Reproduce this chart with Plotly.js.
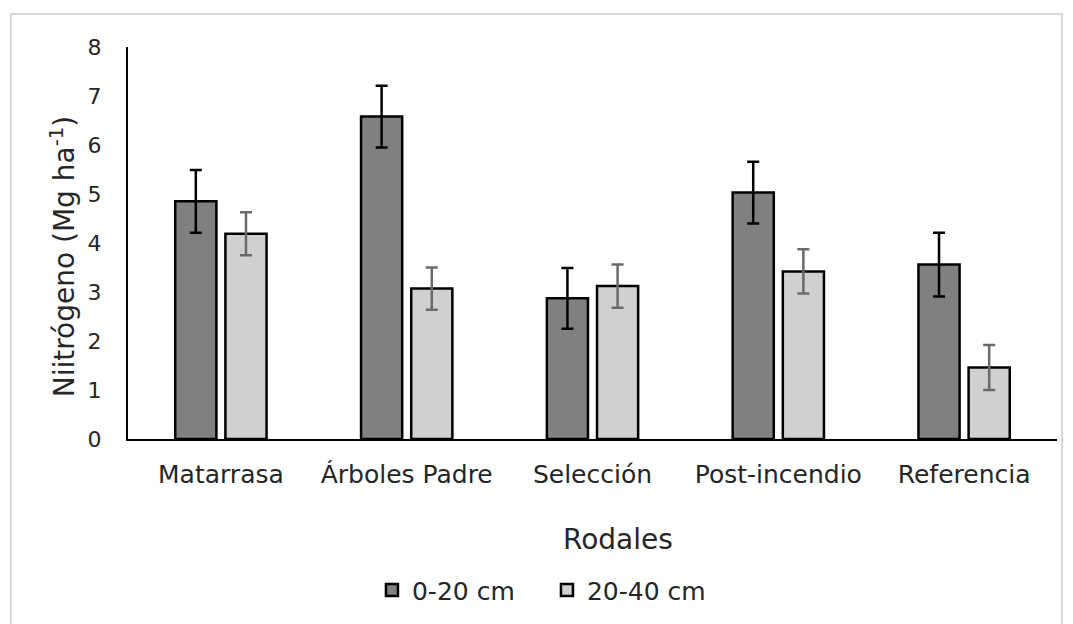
<!DOCTYPE html>
<html>
<head>
<meta charset="utf-8">
<script src="https://cdn.plot.ly/plotly-3.0.1.min.js"></script>
<style>
  html, body { margin: 0; padding: 0; background: #ffffff; }
  #frame { position: absolute; left: 10px; top: 13px; width: 1053px; height: 700px; border: 2px solid #d9d9d9; box-sizing: border-box; }
  #chart { position: absolute; left: 0; top: 0; width: 1073px; height: 624px; }
</style>
</head>
<body>
<div id="frame"></div>
<div id="chart"></div>
<script>
const categories = ["Matarrasa", "Árboles Padre", "Selección", "Post-incendio", "Referencia"];
const seriesNames = ["0-20 cm", "20-40 cm"];
const values0_20 = [4.85, 6.58, 2.87, 5.03, 3.56];
const errors0_20 = [0.64, 0.63, 0.62, 0.63, 0.65];
const values20_40 = [4.19, 3.07, 3.12, 3.42, 1.46];
const errors20_40 = [0.44, 0.43, 0.44, 0.45, 0.46];
const yTicks = [0, 1, 2, 3, 4, 5, 6, 7, 8];

const FONT = "DejaVu Sans, Verdana, sans-serif";

const traces = [
  {
    type: "bar", name: seriesNames[0], x: categories, y: values0_20,
    marker: { color: "#808080", line: { color: "#000000", width: 2.5 } },
    error_y: { type: "data", array: errors0_20, visible: true, color: "#000000", thickness: 2.5, width: 6 }
  },
  {
    type: "bar", name: seriesNames[1], x: categories, y: values20_40,
    marker: { color: "#d0d0d0", line: { color: "#000000", width: 2.5 } },
    error_y: { type: "data", array: errors20_40, visible: true, color: "#6a6a6a", thickness: 2.5, width: 6 }
  }
];

const layout = {
  width: 1073, height: 624,
  margin: { l: 128, r: 16, t: 47, b: 184 },
  paper_bgcolor: "rgba(0,0,0,0)",
  plot_bgcolor: "rgba(0,0,0,0)",
  barmode: "group",
  bargap: 0.46,
  bargroupgap: 0.18,
  font: { family: FONT, color: "#262626" },
  showlegend: true,
  legend: {
    orientation: "h", x: 0.2626, y: -0.382, xanchor: "left", yanchor: "middle",
    font: { family: FONT, size: 25, color: "#262626" },
    itemwidth: 30,
    entrywidth: 130, entrywidthmode: "pixels",
    itemclick: false
  },
  xaxis: {
    type: "category",
    showline: true, linecolor: "#000000", linewidth: 2,
    showgrid: false, ticks: "", zeroline: false,
    tickfont: { family: FONT, size: 25, color: "#262626" },
    ticklabelstandoff: 12
  },
  yaxis: {
    range: [0, 8], tickvals: yTicks,
    showline: true, linecolor: "#000000", linewidth: 2,
    showgrid: false, ticks: "", zeroline: false,
    tickfont: { family: FONT, size: 22, color: "#262626" },
    ticklabelstandoff: 20
  },
  annotations: [
    {
      text: "Niitrógeno (Mg ha<sup>-1</sup>)", xref: "paper", yref: "paper",
      x: -0.07, y: 0.466, xanchor: "center", yanchor: "middle", textangle: -90,
      showarrow: false, font: { family: FONT, size: 28, color: "#262626" }
    },
    {
      text: "Rodales", xref: "paper", yref: "paper",
      x: 0.5275, y: -0.257, xanchor: "center", yanchor: "middle",
      showarrow: false, font: { family: FONT, size: 28, color: "#262626" }
    }
  ]
};

Plotly.newPlot("chart", traces, layout, { displayModeBar: false, staticPlot: true });
</script>
</body>
</html>
